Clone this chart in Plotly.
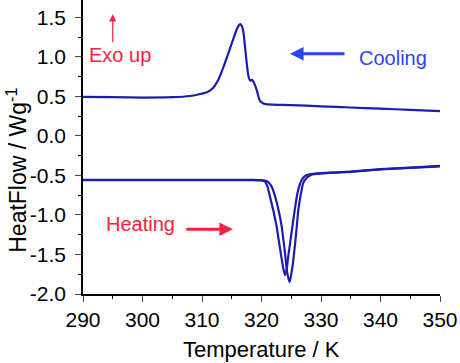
import plotly.graph_objects as go

# Cooling curve (K, W/g)
cool_T = [290, 295, 300, 305, 308, 309.7, 311, 311.9, 312.8, 313.6, 314.3, 315.0, 315.8, 316.2,
          316.45, 316.7, 316.95, 317.2, 317.5, 317.8, 318.1, 318.4, 318.7, 319.2, 319.7, 320.3,
          321, 325, 330, 335, 340, 345, 350]
cool_Y = [0.495, 0.49, 0.485, 0.49, 0.505, 0.53, 0.56, 0.61, 0.72, 0.87, 1.02, 1.17, 1.34, 1.40,
          1.415, 1.39, 1.32, 1.15, 0.93, 0.76, 0.70, 0.71, 0.68, 0.58, 0.45, 0.41,
          0.40, 0.39, 0.375, 0.36, 0.345, 0.33, 0.315]

# Heating curve 1
heat1_T = [290, 300, 310, 318, 320, 320.6, 321, 321.4, 322, 322.55, 323.1, 323.67, 323.95, 324.2,
           324.5, 324.8, 325.2, 325.6, 326.0, 326.5, 327.0, 327.6, 328.5, 330, 335, 340, 345, 350]
heat1_Y = [-0.555, -0.555, -0.555, -0.555, -0.56, -0.58, -0.64, -0.76, -0.95, -1.15, -1.42, -1.68, -1.76, -1.70,
           -1.52, -1.36, -1.14, -0.93, -0.74, -0.60, -0.53, -0.495, -0.48, -0.47, -0.45, -0.42, -0.40, -0.38]

# Heating curve 2
heat2_T = [290, 300, 310, 318, 320.5, 321.1, 321.7, 322.3, 322.9, 323.4, 323.9, 324.3, 324.7, 325.0,
           325.35, 325.8, 326.2, 326.6, 327.0, 327.6, 328.4, 330, 335, 340, 345, 350]
heat2_Y = [-0.56, -0.56, -0.56, -0.56, -0.565, -0.58, -0.64, -0.77, -0.95, -1.15, -1.45, -1.72, -1.85, -1.75,
           -1.57, -1.25, -0.93, -0.74, -0.60, -0.53, -0.49, -0.475, -0.455, -0.425, -0.405, -0.385]

x_ticks = [290, 300, 310, 320, 330, 340, 350]
y_ticks = [-2.0, -1.5, -1.0, -0.5, 0.0, 0.5, 1.0, 1.5]
y_ticklabels = ["-2.0", "-1.5", "-1.0", "-0.5", "0.0", "0.5", "1.0", "1.5"]

CURVE = "#1c1cb0"
RED = "#f5213f"
BLUE = "#2a46ee"
FONT = "Liberation Sans, Arial, sans-serif"

fig = go.Figure()
for T, Y in [(cool_T, cool_Y), (heat1_T, heat1_Y), (heat2_T, heat2_Y)]:
    fig.add_trace(go.Scatter(x=T, y=Y, mode="lines",
                             line=dict(color=CURVE, width=2.2, shape="spline", smoothing=0.6),
                             showlegend=False, hoverinfo="skip"))

fig.update_layout(
    width=460, height=363,
    margin=dict(l=83, r=20, t=0, b=69),
    paper_bgcolor="white", plot_bgcolor="white",
    font=dict(family=FONT, size=20, color="black"),
    showlegend=False,
)
fig.update_xaxes(range=[290, 350], tickvals=x_ticks, ticks="outside", ticklen=6, tickwidth=1.2,
                 showline=True, linecolor="black", linewidth=1.5, showgrid=False, zeroline=False,
                 tickfont=dict(size=21), mirror=False, automargin=False,
                 minor=dict(dtick=5, tick0=290, ticks="outside", ticklen=3, tickcolor="black", showgrid=False))
fig.update_yaxes(range=[-2.0, 1.72], tickvals=y_ticks, ticktext=y_ticklabels, ticks="outside",
                 ticklen=6, tickwidth=1.2, showline=True, linecolor="black", linewidth=1.5,
                 showgrid=False, zeroline=False, tickfont=dict(size=21), automargin=False,
                 ticklabelstandoff=5,
                 minor=dict(dtick=0.25, tick0=0, ticks="outside", ticklen=3, tickcolor="black", showgrid=False))

# axis titles as annotations
fig.add_annotation(x=-0.187, y=0.42, xref="paper", yref="paper", text="HeatFlow / Wg<sup>-1</sup>",
                   textangle=-90, showarrow=False, font=dict(size=23, family=FONT),
                   xanchor="center", yanchor="middle")
fig.add_annotation(x=0.5, y=-0.19, xref="paper", yref="paper", text="Temperature / K",
                   showarrow=False, font=dict(size=22, family=FONT), xanchor="center", yanchor="middle")

# texts
fig.add_annotation(x=296.2, y=1.02, text="Exo up", showarrow=False, font=dict(color=RED, size=20, family=FONT))
fig.add_annotation(x=342.1, y=0.99, text="Cooling", showarrow=False, font=dict(color=BLUE, size=20, family=FONT))
fig.add_annotation(x=299.6, y=-1.12, text="Heating", showarrow=False, font=dict(color=RED, size=20, family=FONT))

# arrows
fig.add_annotation(x=295.0, y=1.54, ax=295.0, ay=1.17, xref="x", yref="y", axref="x", ayref="y",
                   text="", showarrow=True, arrowhead=2, arrowsize=1.2, arrowwidth=1.2, arrowcolor=RED)
fig.add_annotation(x=324.8, y=1.04, ax=334.2, ay=1.04, xref="x", yref="y", axref="x", ayref="y",
                   text="", showarrow=True, arrowhead=2, arrowsize=0.9, arrowwidth=3, arrowcolor=BLUE)
fig.add_annotation(x=315.2, y=-1.18, ax=307.1, ay=-1.18, xref="x", yref="y", axref="x", ayref="y",
                   text="", showarrow=True, arrowhead=2, arrowsize=0.9, arrowwidth=3, arrowcolor=RED)

fig.write_html("out.html", config={"displayModeBar": False},
               post_script="document.body.style.margin='0';document.body.style.overflow='hidden';")
